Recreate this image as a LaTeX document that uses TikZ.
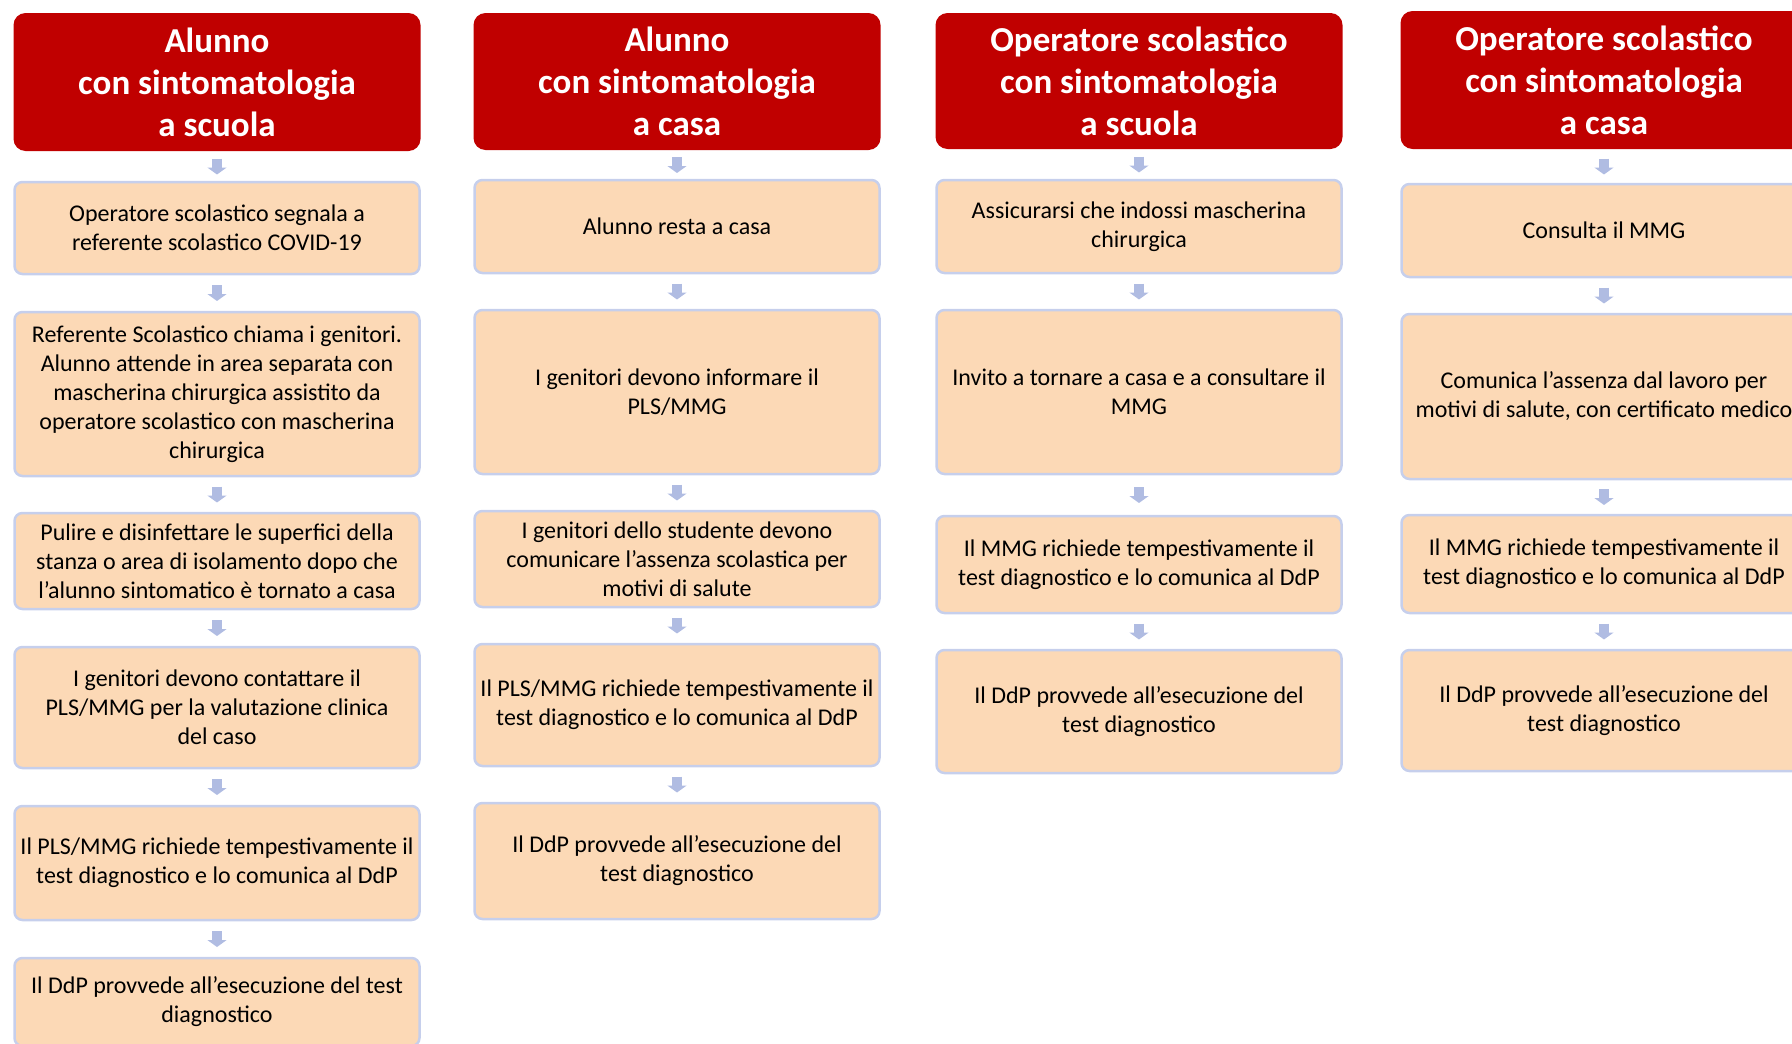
\documentclass[tikz,border=0pt]{standalone}
\usepackage{fontspec}
\setmainfont{Carlito}
\usepackage{tikz}
\usetikzlibrary{positioning,calc,arrows.meta}

\definecolor{headred}{HTML}{C00000}
\definecolor{boxfill}{HTML}{FCD9B6}
\definecolor{boxline}{HTML}{C6CFEC}
\definecolor{arrowblue}{HTML}{B0BCE2}

% short block arrow centred in the gap between two boxes
\newcommand{\flowdown}[2]{%
  \draw[flow] ($(#1.south)!.5!(#2.north)$) ++(0,8) -- ++(0,-16);}

\begin{document}
\begin{tikzpicture}[
  x=1pt, y=1pt,
  head/.style = {shape=rectangle, rounded corners=12pt, fill=headred, text=white,
                 minimum width=407pt, align=center, outer sep=0pt,
                 font=\fontsize{35}{42}\selectfont\bfseries},
  stepbox/.style = {shape=rectangle, rounded corners=8pt, draw=boxline, line width=2.5pt,
                    fill=boxfill, minimum width=405pt, align=center, outer sep=0pt,
                    font=\fontsize{24}{29}\selectfont},
  flow/.style = {draw=arrowblue, line width=10pt, -{Triangle[width=19pt,length=7pt]}}
]
  \useasboundingbox (0,0) rectangle (1792,-1044);
  \clip (0,0) rectangle (1792,-1044);

  % alunno a scuola
  \node[head, minimum height=138pt] (h1) at (217,-82) {Alunno\\con sintomatologia\\a scuola};
  \node[stepbox, minimum height=92pt, below=31pt of h1] (a1)
    {Operatore scolastico segnala a\\referente scolastico COVID-19};
  \node[stepbox, minimum height=164pt, below=38pt of a1] (a2)
    {Referente Scolastico chiama i genitori.\\Alunno attende in area separata con\\mascherina chirurgica assistito da\\operatore scolastico con mascherina\\chirurgica};
  \node[stepbox, minimum height=96pt, below=37pt of a2] (a3)
    {Pulire e disinfettare le superfici della\\stanza o area di isolamento dopo che\\l’alunno sintomatico è tornato a casa};
  \node[stepbox, minimum height=121pt, below=38pt of a3] (a4)
    {I genitori devono contattare il\\PLS/MMG per la valutazione clinica\\del caso};
  \node[stepbox, minimum height=114pt, below=38pt of a4] (a5)
    {Il PLS/MMG richiede tempestivamente il\\test diagnostico e lo comunica al DdP};
  \node[stepbox, minimum height=88pt, below=38pt of a5] (a6)
    {Il DdP provvede all’esecuzione del test\\diagnostico};

  % alunno a casa
  \node[head, minimum height=137pt] (h2) at (677,-81.5) {Alunno\\con sintomatologia\\a casa};
  \node[stepbox, minimum height=93pt, below=30pt of h2] (b1) {Alunno resta a casa};
  \node[stepbox, minimum height=164pt, below=37pt of b1] (b2)
    {I genitori devono informare il\\PLS/MMG};
  \node[stepbox, minimum height=96pt, below=37pt of b2] (b3)
    {I genitori dello studente devono\\comunicare l’assenza scolastica per\\motivi di salute};
  \node[stepbox, minimum height=122pt, below=37pt of b3] (b4)
    {Il PLS/MMG richiede tempestivamente il\\test diagnostico e lo comunica al DdP};
  \node[stepbox, minimum height=116pt, below=37pt of b4] (b5)
    {Il DdP provvede all’esecuzione del\\test diagnostico};

  % operatore a scuola
  \node[head, minimum height=136pt] (h3) at (1139,-81) {Operatore scolastico\\con sintomatologia\\a scuola};
  \node[stepbox, minimum height=93pt, below=31pt of h3] (c1)
    {Assicurarsi che indossi mascherina\\chirurgica};
  \node[stepbox, minimum height=164pt, below=37pt of c1] (c2)
    {Invito a tornare a casa e a consultare il\\MMG};
  \node[stepbox, minimum height=97pt, below=42pt of c2] (c3)
    {Il MMG richiede tempestivamente il\\test diagnostico e lo comunica al DdP};
  \node[stepbox, minimum height=123pt, below=37pt of c3] (c4)
    {Il DdP provvede all’esecuzione del\\test diagnostico};

  % operatore a casa
  \node[head, minimum height=138pt] (h4) at (1604,-80) {Operatore scolastico\\con sintomatologia\\a casa};
  \node[stepbox, minimum height=93pt, below=35pt of h4] (d1) {Consulta il MMG};
  \node[stepbox, minimum height=165pt, below=37pt of d1] (d2)
    {Comunica l’assenza dal lavoro per\\motivi di salute, con certificato medico};
  \node[stepbox, minimum height=98pt, below=36pt of d2] (d3)
    {Il MMG richiede tempestivamente il\\test diagnostico e lo comunica al DdP};
  \node[stepbox, minimum height=121pt, below=37pt of d3] (d4)
    {Il DdP provvede all’esecuzione del\\test diagnostico};

  \flowdown{h1}{a1} \flowdown{a1}{a2} \flowdown{a2}{a3}
  \flowdown{a3}{a4} \flowdown{a4}{a5} \flowdown{a5}{a6}
  \flowdown{h2}{b1} \flowdown{b1}{b2} \flowdown{b2}{b3}
  \flowdown{b3}{b4} \flowdown{b4}{b5}
  \flowdown{h3}{c1} \flowdown{c1}{c2} \flowdown{c2}{c3} \flowdown{c3}{c4}
  \flowdown{h4}{d1} \flowdown{d1}{d2} \flowdown{d2}{d3} \flowdown{d3}{d4}
\end{tikzpicture}
\end{document}
